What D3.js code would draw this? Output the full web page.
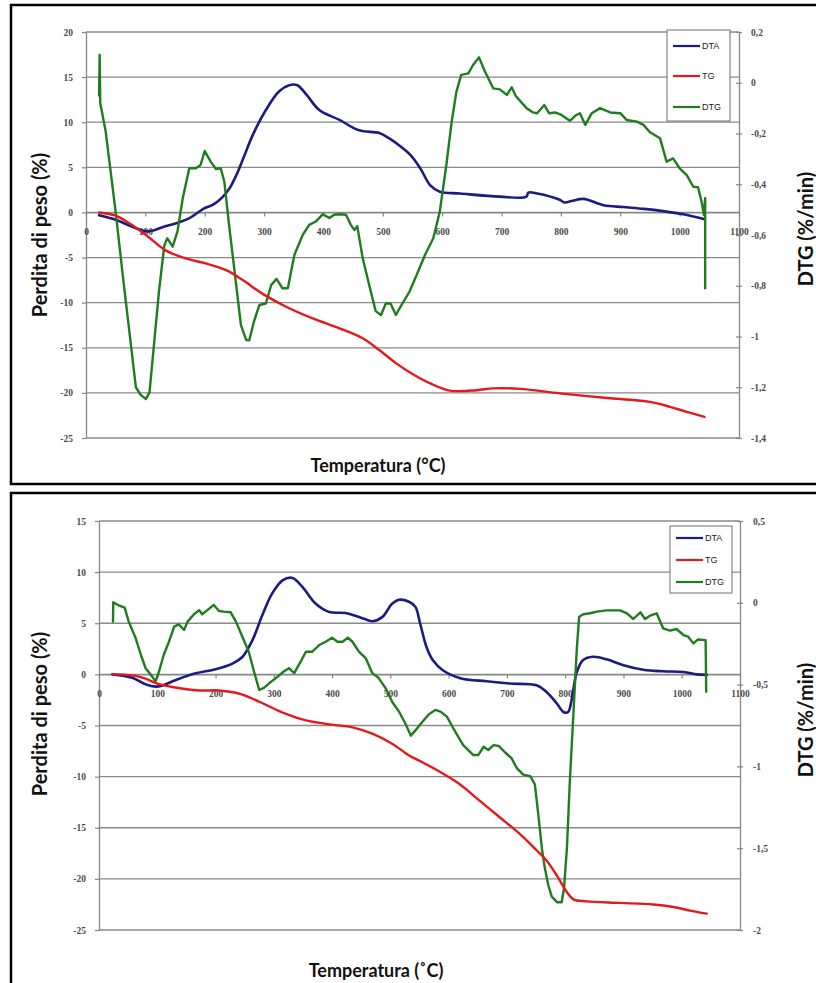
<!DOCTYPE html>
<html>
<head>
<meta charset="utf-8">
<script src="https://cdn.jsdelivr.net/npm/d3@7"></script>
<style>
  html, body { margin: 0; padding: 0; background: #fff; }
  svg { display: block; }
</style>
</head>
<body>
<svg id="chart" width="816" height="983"></svg>
<script>
// ---- Series names ----
const seriesNames = ["DTA", "TG", "DTG"];
const seriesColors = ["#1c1c80", "#e3191c", "#1f7d1f"];

// ---- Axis ticks ----
const tempTicks = [0, 100, 200, 300, 400, 500, 600, 700, 800, 900, 1000, 1100];
const lossTicksA = [20, 15, 10, 5, 0, -5, -10, -15, -20, -25];
const dtgTicksA = [0.2, 0, -0.2, -0.4, -0.6, -0.8, -1, -1.2, -1.4];
const lossTicksB = [15, 10, 5, 0, -5, -10, -15, -20, -25];
const dtgTicksB = [0.5, 0, -0.5, -1, -1.5, -2];

// ---- Sample A: [temperature °C, value] ----
const dtaA = [[22,-0.3],[50,-0.8],[75,-1.5],[104,-2.1],[130,-1.6],[152,-1.2],[175,-0.6],[199,0.45],[215,0.9],[230,1.7],[242,2.7],[253,4.1],[265,6.0],[281,8.6],[303,11.35],[325,13.4],[342,14.1],[356,14.1],[372,13.0],[393,11.35],[427,10.25],[460,9.1],[494,8.8],[511,8.2],[530,7.3],[546,6.4],[563,4.9],[580,3.0],[596,2.3],[630,2.1],[697,1.75],[742,1.75],[745,2.2],[760,2.1],[798,1.4],[806,1.1],[820,1.3],[838,1.5],[872,0.8],[905,0.6],[940,0.4],[972,0.15],[1006,-0.2],[1042,-0.75]];

const tgA = [[22,0],[50,-0.35],[73,-1.2],[101,-2.5],[134,-4.2],[168,-5.1],[202,-5.65],[236,-6.4],[264,-7.5],[297,-9.0],[337,-10.45],[382,-11.75],[427,-12.85],[466,-13.95],[494,-15.25],[522,-16.7],[550,-17.9],[580,-18.95],[613,-19.75],[658,-19.7],[686,-19.5],[731,-19.55],[798,-20.05],[883,-20.6],[950,-21.0],[984,-21.55],[1012,-22.1],[1042,-22.65]];

const dtgA = [[22,-0.05],[23,0.11],[24,-0.08],[33,-0.19],[50,-0.51],[62,-0.76],[73,-0.98],[84,-1.20],[92,-1.23],[101,-1.246],[107,-1.22],[115,-1.02],[123,-0.82],[132,-0.64],[137,-0.613],[146,-0.646],[154,-0.587],[163,-0.455],[174,-0.337],[185,-0.337],[193,-0.324],[200,-0.269],[210,-0.311],[219,-0.34],[227,-0.337],[233,-0.39],[241,-0.56],[253,-0.797],[261,-0.955],[270,-1.014],[275,-1.015],[283,-0.94],[292,-0.876],[303,-0.87],[312,-0.797],[321,-0.773],[331,-0.81],[340,-0.81],[351,-0.679],[365,-0.60],[376,-0.56],[387,-0.547],[399,-0.518],[410,-0.533],[418,-0.52],[427,-0.518],[438,-0.52],[446,-0.56],[452,-0.58],[457,-0.565],[466,-0.69],[477,-0.797],[488,-0.90],[497,-0.915],[505,-0.87],[513,-0.87],[522,-0.915],[533,-0.87],[545,-0.823],[557,-0.758],[571,-0.679],[585,-0.613],[596,-0.508],[607,-0.324],[616,-0.153],[624,-0.035],[632,0.031],[644,0.037],[652,0.07],[662,0.10],[672,0.044],[686,-0.022],[697,-0.026],[709,-0.048],[717,-0.018],[724,-0.052],[742,-0.10],[753,-0.117],[760,-0.12],[772,-0.088],[780,-0.12],[790,-0.117],[801,-0.127],[815,-0.15],[826,-0.127],[832,-0.12],[841,-0.166],[852,-0.12],[866,-0.10],[883,-0.117],[900,-0.12],[911,-0.147],[928,-0.153],[939,-0.166],[950,-0.195],[967,-0.219],[978,-0.311],[989,-0.298],[1000,-0.337],[1012,-0.364],[1023,-0.41],[1031,-0.412],[1037,-0.469],[1041,-0.521],[1043,-0.455],[1043,-0.81]];

// ---- Sample B: [temperature °C, value] ----
const dtaB = [[23,0],[57,-0.33],[80,-0.98],[97,-1.2],[108,-1.1],[132,-0.55],[166,0.1],[200,0.5],[229,1.05],[246,1.7],[263,3.3],[280,5.75],[297,7.9],[315,9.2],[332,9.43],[349,8.55],[372,6.9],[395,6.1],[423,6.0],[452,5.5],[469,5.2],[486,5.6],[503,6.9],[515,7.3],[532,7.1],[543,6.6],[551,5.0],[562,2.67],[573,1.37],[590,0.4],[620,-0.37],[665,-0.68],[705,-0.9],[751,-1.07],[768,-1.72],[786,-2.87],[797,-3.68],[805,-3.68],[811,-2.5],[820,0.23],[831,1.4],[848,1.72],[871,1.47],[900,0.9],[934,0.46],[968,0.3],[1003,0.23],[1026,0],[1043,-0.05]];

const tgB = [[23,0],[57,-0.1],[80,-0.42],[100,-0.91],[126,-1.24],[172,-1.57],[206,-1.57],[235,-1.8],[257,-2.22],[286,-2.97],[320,-3.85],[355,-4.5],[400,-4.92],[435,-5.18],[469,-5.8],[503,-6.78],[532,-7.93],[555,-8.6],[584,-9.5],[618,-10.7],[652,-12.3],[687,-13.95],[722,-15.6],[751,-17.2],[768,-18.2],[786,-19.7],[803,-21.3],[814,-22.0],[837,-22.2],[894,-22.35],[951,-22.5],[986,-22.75],[1014,-23.1],[1043,-23.4]];

const dtgB = [[24,-0.115],[24.5,0.003],[35,-0.018],[44,-0.03],[51,-0.115],[63,-0.217],[72,-0.319],[80,-0.40],[89,-0.44],[97,-0.48],[103,-0.42],[111,-0.319],[120,-0.238],[129,-0.146],[137,-0.132],[146,-0.166],[152,-0.115],[163,-0.07],[172,-0.045],[177,-0.07],[186,-0.045],[197,-0.013],[206,-0.05],[214,-0.054],[226,-0.058],[235,-0.115],[246,-0.207],[257,-0.299],[266,-0.42],[275,-0.533],[283,-0.52],[292,-0.492],[303,-0.462],[317,-0.42],[326,-0.40],[335,-0.43],[346,-0.36],[355,-0.299],[366,-0.299],[378,-0.258],[389,-0.238],[400,-0.213],[409,-0.238],[418,-0.238],[427,-0.213],[435,-0.238],[446,-0.299],[458,-0.34],[469,-0.43],[480,-0.46],[492,-0.523],[503,-0.605],[515,-0.666],[527,-0.747],[535,-0.812],[543,-0.78],[555,-0.727],[566,-0.682],[577,-0.655],[586,-0.665],[597,-0.696],[608,-0.767],[625,-0.87],[642,-0.93],[651,-0.93],[660,-0.88],[668,-0.90],[677,-0.87],[686,-0.875],[697,-0.915],[708,-0.95],[717,-1.01],[728,-1.05],[740,-1.06],[748,-1.11],[754,-1.30],[760,-1.50],[765,-1.62],[771,-1.725],[777,-1.796],[786,-1.83],[794,-1.83],[798,-1.745],[803,-1.50],[808,-1.09],[814,-0.686],[820,-0.278],[824,-0.085],[831,-0.07],[843,-0.064],[854,-0.054],[871,-0.046],[894,-0.046],[906,-0.064],[917,-0.099],[929,-0.058],[937,-0.099],[946,-0.078],[957,-0.064],[968,-0.156],[980,-0.17],[991,-0.16],[1003,-0.197],[1011,-0.207],[1020,-0.248],[1028,-0.224],[1041,-0.228],[1042,-0.543]];

// ---- Labels ----
const yTitle = "Perdita di peso (%)";
const y2Title = "DTG (%/min)";
const xTitleA = "Temperatura (°C)";
const xTitleB = "Temperatura (˚C)";

const svg = d3.select("#chart");
const itLocale = d3.formatLocale({ decimal: ",", thousands: ".", grouping: [3], currency: ["", "€"] });
const fmtComma = v => itLocale.format("~g")(v).replace("−", "-");
const fmtPlain = v => String(v);

const tickFont = "'Liberation Serif', 'DejaVu Serif', serif";
const titleFont = "Lato, 'Open Sans', sans-serif";
const gridColor = "#8a8a8a";
const axisColor = "#868686";

function drawPanel(cfg) {
  const g = svg.append("g");

  // outer frame
  g.append("rect")
    .attr("x", cfg.frame[0]).attr("y", cfg.frame[1])
    .attr("width", cfg.frame[2]).attr("height", cfg.frame[3])
    .attr("fill", "#fff").attr("stroke", "#000").attr("stroke-width", 2.5);

  const x = d3.scaleLinear().domain([0, 1100]).range([cfg.left, cfg.right]);
  const y = d3.scaleLinear().domain(cfg.lossDomain).range([cfg.top, cfg.bottom]);
  const y2 = d3.scaleLinear().domain(cfg.dtgDomain).range([cfg.top, cfg.bottom]);

  // horizontal gridlines
  g.append("g").selectAll("line").data(cfg.lossTicks).join("line")
    .attr("x1", cfg.left).attr("x2", cfg.right)
    .attr("y1", d => y(d)).attr("y2", d => y(d))
    .attr("stroke", gridColor).attr("stroke-width", 1.3);

  // left axis
  const la = g.append("g").attr("transform", `translate(${cfg.left},0)`)
    .call(d3.axisLeft(y).tickValues(cfg.lossTicks).tickFormat(fmtPlain).tickSizeInner(4).tickSizeOuter(0).tickPadding(9));
  // right axis
  const ra = g.append("g").attr("transform", `translate(${cfg.right},0)`)
    .call(d3.axisRight(y2).tickValues(cfg.dtgTicks).tickFormat(fmtComma).tickSizeInner(4).tickSizeOuter(0).tickPadding(cfg.rightPad));
  ra.selectAll(".tick line").attr("x1", -3).attr("x2", 3);
  // temperature axis, crossing at zero loss
  const xa = g.append("g").attr("transform", `translate(0,${y(0)})`)
    .call(d3.axisBottom(x).tickValues(tempTicks).tickFormat(fmtPlain).tickSizeInner(4).tickSizeOuter(0).tickPadding(12));

  [la, ra, xa].forEach(a => {
    a.select(".domain").attr("stroke", axisColor).attr("stroke-width", 1.3);
    a.selectAll(".tick line").attr("stroke", axisColor).attr("stroke-width", 1.2);
    a.selectAll(".tick text")
      .attr("font-family", tickFont).attr("font-size", 9.5).attr("font-weight", "bold")
      .attr("fill", "#4a4a4a");
  });

  // curves
  const lineLoss = d3.line().x(d => x(d[0])).y(d => y(d[1])).curve(d3.curveCatmullRom.alpha(0.5));
  const lineDtg = d3.line().x(d => x(d[0])).y(d => y2(d[1]));
  const plot = g.append("g").attr("fill", "none")
    .attr("stroke-linejoin", "round").attr("stroke-linecap", "round");
  plot.append("path").datum(cfg.dta).attr("d", lineLoss)
    .attr("stroke", seriesColors[0]).attr("stroke-width", 2.6);
  plot.append("path").datum(cfg.dtg).attr("d", lineDtg)
    .attr("stroke", seriesColors[2]).attr("stroke-width", 2.4);
  plot.append("path").datum(cfg.tg).attr("d", lineLoss)
    .attr("stroke", seriesColors[1]).attr("stroke-width", 2.4);

  // legend
  const lg = g.append("g");
  lg.append("rect")
    .attr("x", cfg.legend[0]).attr("y", cfg.legend[1])
    .attr("width", cfg.legend[2]).attr("height", cfg.legend[3])
    .attr("fill", "#fff").attr("stroke", "#6e6e6e").attr("stroke-width", 1);
  seriesNames.forEach((name, i) => {
    const ly = cfg.legendRows[i];
    lg.append("line")
      .attr("x1", cfg.legend[0] + 6).attr("x2", cfg.legend[0] + 33)
      .attr("y1", ly).attr("y2", ly)
      .attr("stroke", seriesColors[i]).attr("stroke-width", 2.2);
    lg.append("text")
      .attr("x", cfg.legend[0] + 35).attr("y", ly + 3.2)
      .attr("font-family", "'Liberation Sans', Arial, sans-serif").attr("font-size", 9)
      .attr("fill", "#222").text(name);
  });

  // titles
  g.append("text")
    .attr("transform", `translate(${cfg.yTitlePos[0]},${cfg.yTitlePos[1]}) rotate(-90)`)
    .attr("text-anchor", "middle").attr("font-family", titleFont)
    .attr("font-weight", "bold").attr("font-size", 20).attr("fill", "#111")
    .text(yTitle);
  g.append("text")
    .attr("transform", `translate(${cfg.y2TitlePos[0]},${cfg.y2TitlePos[1]}) rotate(-90)`)
    .attr("text-anchor", "middle").attr("font-family", titleFont)
    .attr("font-weight", "bold").attr("font-size", 20).attr("fill", "#111")
    .text(y2Title);
  g.append("text")
    .attr("x", cfg.xTitlePos[0]).attr("y", cfg.xTitlePos[1])
    .attr("text-anchor", "middle").attr("font-family", titleFont)
    .attr("font-weight", "bold").attr("font-size", 18).attr("fill", "#111")
    .text(cfg.xTitle);
}

drawPanel({
  frame: [11, 5, 830, 479],
  left: 86, right: 739, top: 32, bottom: 438,
  lossDomain: [20, -25], dtgDomain: [0.2, -1.4],
  lossTicks: lossTicksA, dtgTicks: dtgTicksA, rightPad: 8,
  dta: dtaA, tg: tgA, dtg: dtgA,
  legend: [667, 30, 63, 91], legendRows: [46, 76, 107],
  yTitlePos: [47, 235], y2TitlePos: [813, 229], xTitlePos: [378, 472],
  xTitle: xTitleA
});

drawPanel({
  frame: [11, 493, 830, 500],
  left: 99, right: 740, top: 521, bottom: 930,
  lossDomain: [15, -25], dtgDomain: [0.5, -2],
  lossTicks: lossTicksB, dtgTicks: dtgTicksB, rightPad: 9,
  dta: dtaB, tg: tgB, dtg: dtgB,
  legend: [670, 526, 62, 67], legendRows: [538, 560, 582],
  yTitlePos: [47, 714], y2TitlePos: [813, 720], xTitlePos: [376, 977],
  xTitle: xTitleB
});
</script>
</body>
</html>
